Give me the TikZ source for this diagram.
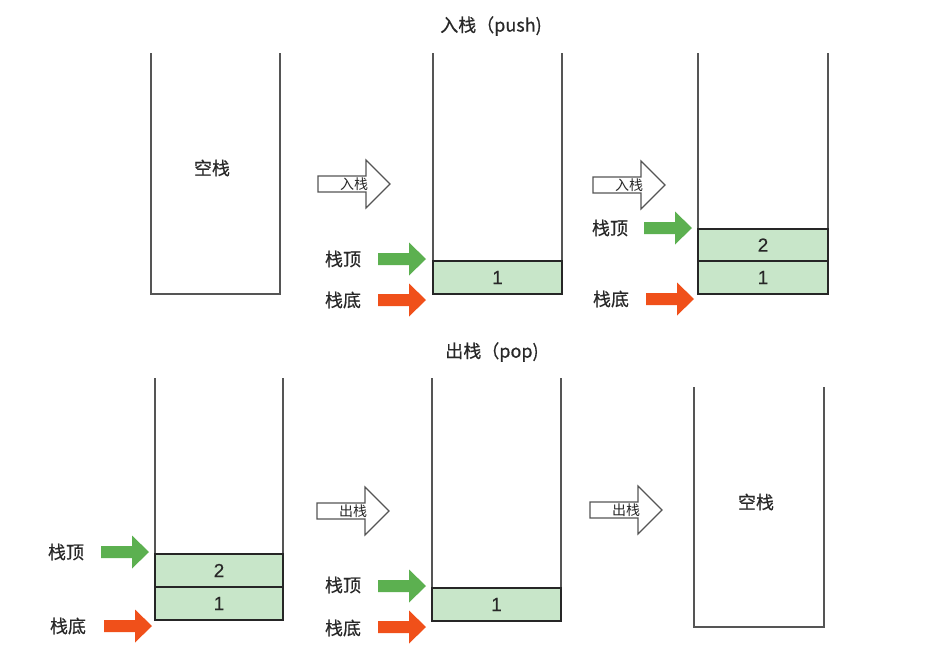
\documentclass[tikz,border=0pt]{standalone}
\usepackage{fontspec}
\setmainfont{Noto Sans CJK SC}
\newfontfamily\medfont{Noto Sans CJK SC}[FakeBold=0.45]
\newfontfamily\digitfont{Liberation Sans}[FakeBold=0.3]
\definecolor{topgreen}{RGB}{92,176,80}
\definecolor{botred}{RGB}{240,80,26}
\definecolor{cellfill}{RGB}{200,230,201}
\definecolor{sidegray}{RGB}{85,85,85}
\definecolor{txt}{RGB}{40,40,40}
\tikzset{
  stackbody/.style={inner sep=0pt, outer sep=0pt},
  side/.style={draw=sidegray, line width=1.4pt},
  cell/.style={draw=black!85, line width=1.1pt, fill=cellfill, inner sep=0pt, outer sep=0pt, font=\digitfont\fontsize{19}{21}\selectfont, text=txt},
  lbl/.style={font=\medfont\fontsize{18}{20}\selectfont, text=txt, inner sep=0pt},
  title/.style={font=\medfont\fontsize{18}{20}\selectfont, text=txt, inner sep=0pt},
  small/.style={font=\fontsize{14}{16}\selectfont, text=txt, inner sep=0pt},
  solidarrow/.pic={\fill[#1] (-48,-6) -- (-17,-6) -- (-17,-16.5) -- (0,0) -- (-17,16.5) -- (-17,6) -- (-48,6) -- cycle;},
  hollowarrow/.pic={\draw[draw=sidegray, line width=1.1pt, fill=white] (-72,-8) -- (-24,-8) -- (-24,-24) -- (0,0) -- (-24,24) -- (-24,8) -- (-72,8) -- cycle;}
}
\begin{document}
\begin{tikzpicture}[x=1pt,y=-1pt]
\useasboundingbox[fill=white] (0,0) rectangle (940,654);

% titles
\node[title] (tpush) at (491,26) {入栈（push)};
\node[title] (tpop) at (492,352) {出栈（pop)};

% ---- push row ----
% stack A (empty)
\node[stackbody, minimum width=129pt, minimum height=241pt] (sA) at (215.5,173.5) {};
\draw[side] (sA.north west) -- (sA.south west) -- (sA.south east) -- (sA.north east);
\node[lbl] (eA) at (212,168) {空栈};

% hollow arrow 1
\coordinate (h1) at (390,184);
\pic at (h1) {hollowarrow};
\node[small] (h1l) at (354,184) {入栈};

% stack B
\node[stackbody, minimum width=129pt, minimum height=241pt] (sB) at (497.5,173.5) {};
\draw[side] (sB.north west) -- (sB.south west) -- (sB.south east) -- (sB.north east);
\node[cell, minimum width=129pt, minimum height=33pt] (B1) at (497.5,277.5) {1};
\node[lbl] (Btop) at (343,259) {栈顶};
\node[lbl] (Bbot) at (343,300) {栈底};
\coordinate (gB) at (426,259);
\coordinate (rB) at (426,300);
\pic at (gB) {solidarrow=topgreen};
\pic at (rB) {solidarrow=botred};

% hollow arrow 2
\coordinate (h2) at (665,185);
\pic at (h2) {hollowarrow};
\node[small] (h2l) at (629,185) {入栈};

% stack C
\node[stackbody, minimum width=130pt, minimum height=241pt] (sC) at (763,173.5) {};
\draw[side] (sC.north west) -- (sC.south west) -- (sC.south east) -- (sC.north east);
\node[cell, minimum width=130pt, minimum height=32pt] (C2) at (763,245) {2};
\node[cell, minimum width=130pt, minimum height=33pt] (C1) at (763,277.5) {1};
\node[lbl] (Ctop) at (610,228) {栈顶};
\node[lbl] (Cbot) at (611,299) {栈底};
\coordinate (gC) at (692,228);
\coordinate (rC) at (694,299);
\pic at (gC) {solidarrow=topgreen};
\pic at (rC) {solidarrow=botred};

% ---- pop row ----
% stack D
\node[stackbody, minimum width=128pt, minimum height=242pt] (sD) at (219,499) {};
\draw[side] (sD.north west) -- (sD.south west) -- (sD.south east) -- (sD.north east);
\node[cell, minimum width=128pt, minimum height=33pt] (D2) at (219,570.5) {2};
\node[cell, minimum width=128pt, minimum height=33pt] (D1) at (219,603.5) {1};
\node[lbl] (Dtop) at (66,552) {栈顶};
\node[lbl] (Dbot) at (68,626) {栈底};
\coordinate (gD) at (149,552);
\coordinate (rD) at (152,626);
\pic at (gD) {solidarrow=topgreen};
\pic at (rD) {solidarrow=botred};

% hollow arrow 3
\coordinate (h3) at (389,511);
\pic at (h3) {hollowarrow};
\node[small] (h3l) at (353,511) {出栈};

% stack E
\node[stackbody, minimum width=129pt, minimum height=243pt] (sE) at (496.5,499.5) {};
\draw[side] (sE.north west) -- (sE.south west) -- (sE.south east) -- (sE.north east);
\node[cell, minimum width=129pt, minimum height=33pt] (E1) at (496.5,604.5) {1};
\node[lbl] (Etop) at (343,585) {栈顶};
\node[lbl] (Ebot) at (343,628) {栈底};
\coordinate (gE) at (426,586);
\coordinate (rE) at (426,627);
\pic at (gE) {solidarrow=topgreen};
\pic at (rE) {solidarrow=botred};

% hollow arrow 4
\coordinate (h4) at (662,510);
\pic at (h4) {hollowarrow};
\node[small] (h4l) at (626,510) {出栈};

% stack F (empty)
\node[stackbody, minimum width=130pt, minimum height=240pt] (sF) at (759,507) {};
\draw[side] (sF.north west) -- (sF.south west) -- (sF.south east) -- (sF.north east);
\node[lbl] (eF) at (756,502) {空栈};
\end{tikzpicture}
\end{document}
